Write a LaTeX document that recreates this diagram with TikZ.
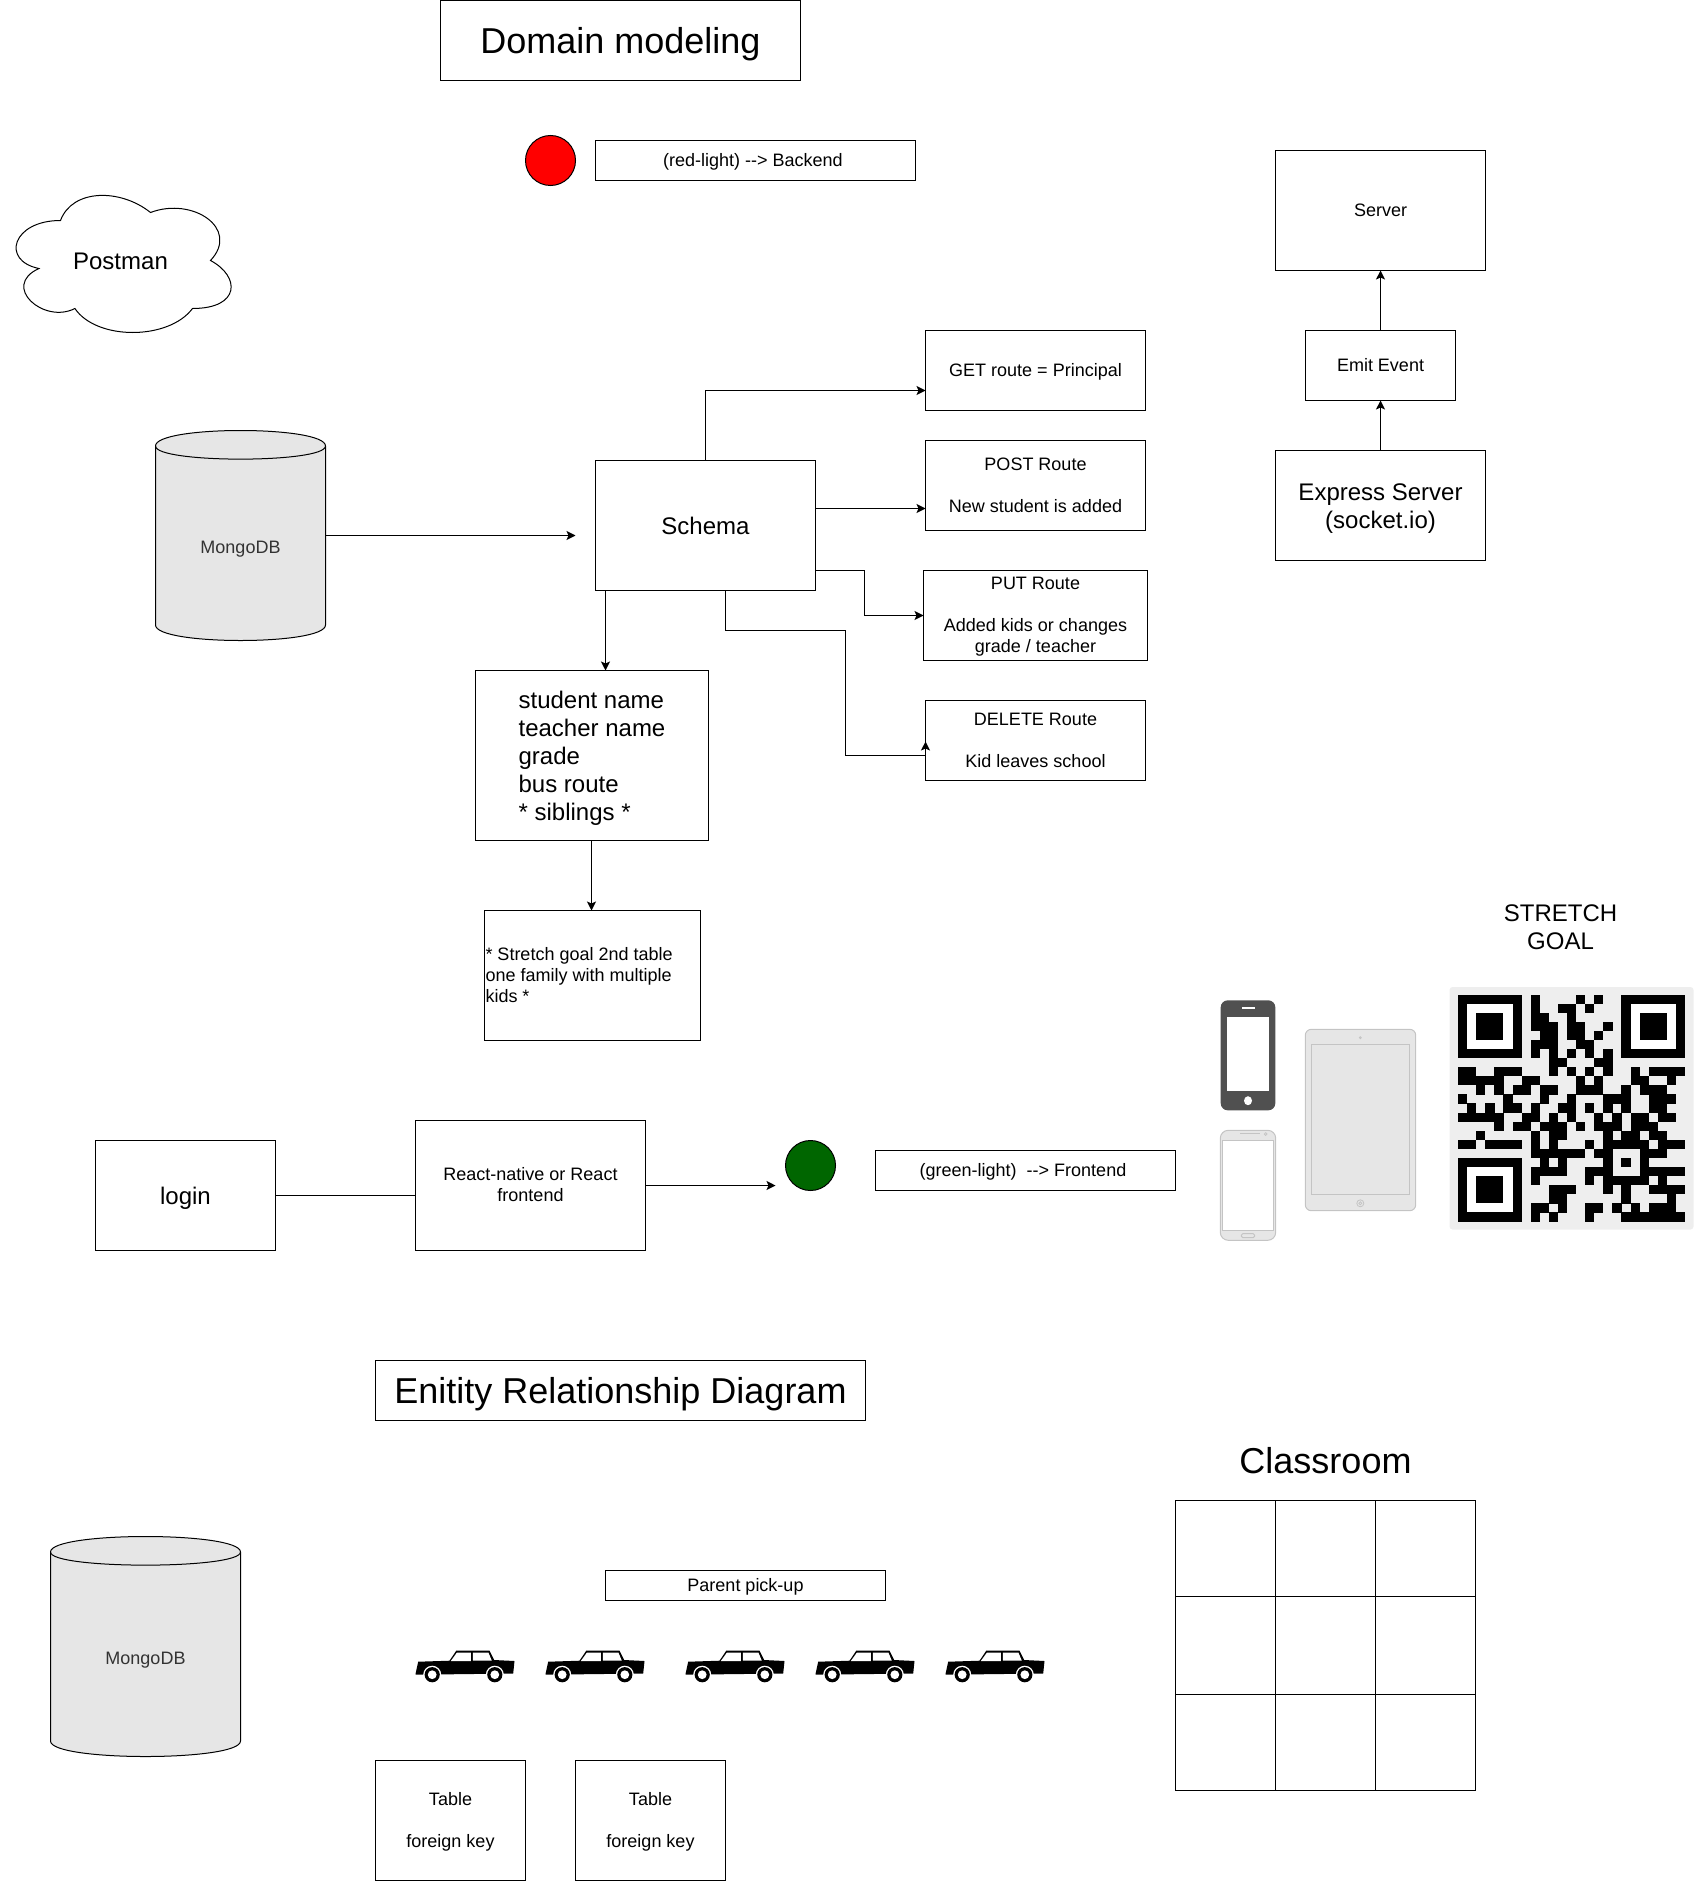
\documentclass[tikz,border=0pt]{standalone}
\usepackage{fontspec}
\setmainfont{Liberation Sans}
\usepackage{tikz}
\usetikzlibrary{arrows.meta, calc, positioning}

\definecolor{dbgray}{HTML}{E6E6E6}
\definecolor{dbtext}{HTML}{333333}
\definecolor{qrpanel}{HTML}{EEEEEE}
\definecolor{phonedark}{HTML}{505050}
\definecolor{devline}{HTML}{C4C4C4}

% Cylinder outline: x, y, width, height
\newcommand{\dbcylinder}[4]{
	\draw[line width=1pt, fill=dbgray] (#1,#2+15.5) .. controls (#1,#2-5.17) and (#1+#3,#2-5.17) .. (#1+#3,#2+15.5)
	-- (#1+#3,#2+#4-15.5) .. controls (#1+#3,#2+#4+5.17) and (#1,#2+#4+5.17) .. (#1,#2+#4-15.5) -- cycle;
	\draw[line width=1pt] (#1,#2+15.5) .. controls (#1,#2+33) and (#1+#3,#2+33) .. (#1+#3,#2+15.5);
}
% Strut for the first line of a text block
\newcommand{\firstline}{\rule{0pt}{\dimexpr.9465em+1pt}}

\tikzset{
	box/.style={draw, line width=1pt, inner sep=0pt, outer sep=0pt, align=center},
	plain/.style={inner sep=0pt, outer sep=0pt, align=center},
	tstrut/.style={execute at begin node={\rule{0pt}{\dimexpr.9465em+1pt}}, execute at end node={\rule[-.2535em]{0pt}{.2535em}}},
	tstrutlow/.style={execute at begin node={\rule{0pt}{\dimexpr.9465em+1pt}}, execute at end node={\rule[\dimexpr-.2535em-2pt]{0pt}{\dimexpr.2535em+2pt}}},
	fsmall/.style={font=\fontsize{18}{21}\selectfont, tstrutlow},
	fmid/.style={font=\fontsize{24}{28}\selectfont, tstrut},
	flarge/.style={font=\fontsize{36}{43}\selectfont, tstrut},
	wire/.style={line width=1pt, -{Stealth[length=9pt, width=9pt, inset=2pt]}},
	pics/car/.style={code={
		\fill[black] (0,24) -- (2.7,11.7) -- (34,10.7) -- (40.7,0.7) -- (74,0.7) -- (78.7,10) -- (99,11) -- (97.7,23.5) -- (0,24.7) -- cycle;
		\fill[white] (35.3,11) -- (41.3,2.7) -- (55.3,2.7) -- (55.3,11) -- cycle;
		\fill[white] (57.3,2.7) -- (73,2.7) -- (76.3,10.7) -- (57.3,10.7) -- cycle;
		\foreach \wx in {16.7,79.3} {
			\fill[white] (\wx,24.7) circle (9);
			\fill[black] (\wx,24.7) circle (7.6);
			\fill[white] (\wx,24.7) circle (4.4);
		}
	}}
}

\begin{document}
\begin{tikzpicture}[x=1pt, y=-1pt, >=Stealth]
	\useasboundingbox (0,0) rectangle (1700,1881);
	\begin{scope}[shift={(0.5,0.5)}]
	
	% --- 1. DOMAIN MODELING ---
	\node[box, flarge, minimum width=360pt, minimum height=80pt] (title) at (620,40) {Domain modeling};
	\node[circle, draw, line width=1pt, fill=red, minimum size=50pt, inner sep=0pt] (redlight) at (550,160) {};
	\node[box, fsmall, minimum width=320pt, minimum height=40pt] (backend) at (755,160) {(red-light) -{}-> Backend\hspace*{5pt}};
	
	% Cloud
	\draw[line width=1pt] (60,220) .. controls (12,220) and (0,260) .. (38.4,268)
	.. controls (0,285.6) and (43.2,324) .. (74.4,308)
	.. controls (96,340) and (168,340) .. (192,308)
	.. controls (240,308) and (240,276) .. (210,260)
	.. controls (240,228) and (192,196) .. (150,212)
	.. controls (120,188) and (72,188) .. (60,220) -- cycle;
	\node[plain, fmid] (postman) at (120,260) {Postman};
	
	% Database
	\dbcylinder{155}{430}{170}{210}
	\node[plain, minimum width=170pt, minimum height=210pt] (mongoA) at (240,535) {};
	\node[plain, fsmall, text=dbtext] (mongoAtext) at ([yshift=-12pt]mongoA.center) {MongoDB};
	\coordinate (schemagap) at (575,535);
	
	% Schema and routes
	\node[box, fmid, minimum width=220pt, minimum height=130pt] (schema) at (705,525) {Schema};
	\node[box, fsmall, minimum width=220pt, minimum height=80pt] (get) at (1035,370) {GET route = Principal};
	\node[box, fsmall, minimum width=220pt, minimum height=90pt] (post) at (1035,485) {\firstline POST Route\\[21pt]New student is added};
	\node[box, fsmall, minimum width=224pt, minimum height=90pt] (put) at (1035,615) {\firstline PUT Route\\[21pt]Added kids or changes\\grade / teacher};
	\node[box, fsmall, minimum width=220pt, minimum height=80pt] (delete) at (1035,740) {\firstline DELETE Route\\[21pt]Kid leaves school};
	\node[box, minimum width=233pt, minimum height=170pt] (attrs) at (591.5,755) {};
	\node[plain, fmid, align=left] (attrstext) at (attrs.center) {\firstline student name\\teacher name\\grade\\bus route\\* siblings *};
	\node[box, minimum width=216pt, minimum height=130pt] (stretch) at (592,975) {};
	\node[plain, fsmall, align=left, anchor=west] (stretchtext) at ([xshift=1pt]stretch.west) {\firstline * Stretch goal 2nd table\\one family with multiple\\kids *};
	
	% Server column
	\node[box, fsmall, minimum width=210pt, minimum height=120pt] (server) at (1380,210) {Server};
	\node[box, fsmall, minimum width=150pt, minimum height=70pt] (emit) at (1380,365) {Emit Event};
	\node[box, fmid, minimum width=210pt, minimum height=110pt] (express) at (1380,505) {\firstline Express Server\\(socket.io)};
	
	% Connectors
	\draw[wire] (mongoA.east) -- (schemagap);
	\draw[wire] (schema.north) |- ([yshift=-20pt]get.west);
	\draw[wire] ([yshift=17pt]schema.east) -- ([yshift=-23pt]post.west);
	\draw[wire] ([yshift=-45pt]schema.east) -- ++(49,0) |- (put.west);
	\draw[wire] ([xshift=20pt]schema.south) |- ++(120,40) |- ([yshift=-15pt]delete.west) -- ([yshift=-1pt]delete.west);
	\draw[wire] ([xshift=-100pt]schema.south) -- ([xshift=13.5pt]attrs.north);
	\draw[wire] ([xshift=-.5pt]attrs.south) -- ([xshift=-1pt]stretch.north);
	\draw[wire] (express.north) -- (emit.south);
	\draw[wire] (emit.north) -- (server.south);
	
	% --- 2. FRONTEND ROW ---
	\node[box, fmid, minimum width=180pt, minimum height=110pt] (login) at (185,1195) {login};
	\node[box, fsmall, minimum width=230pt, minimum height=130pt] (react) at (530,1185) {\firstline React-native or React\\frontend};
	\node[circle, draw, line width=1pt, fill={rgb,255:red,0;green,102;blue,0}, minimum size=50pt, inner sep=0pt] (greenlight) at (810,1165) {};
	\node[box, fsmall, minimum width=300pt, minimum height=40pt] (frontend) at (1025,1170) {(green-light)~ -{}-> Frontend\hspace*{5pt}};
	\coordinate (greengap) at (775,1185);
	\draw[line width=1pt] (login.east) -- ([yshift=-10pt]react.west);
	\draw[wire] (react.east) -- (greengap);
	
	% Devices
	\begin{scope}[shift={(-0.5,-0.5)}]
		\fill[phonedark, rounded corners=7pt] (1220.7,1000.3) rectangle (1275.3,1110.3);
		\fill[white] (1227.3,1017) rectangle (1268.7,1090.7);
		\fill[white] (1241.7,1007) rectangle (1255,1008.7);
		\fill[white] (1248,1100.7) ellipse (4 and 4.5);
		
		\draw[devline, line width=1pt, fill=dbgray, rounded corners=8pt] (1220.3,1130.3) rectangle (1275.7,1240.3);
		\draw[devline, line width=1pt, fill=white] (1222.7,1140.7) rectangle (1273.3,1230);
		\draw[devline, line width=1pt] (1240,1133) -- (1260,1133);
		\draw[devline, line width=.8pt] (1265.7,1134) circle (1.4);
		\draw[devline, line width=1pt, rounded corners=1.5pt] (1241.3,1233.7) rectangle (1254.7,1237.7);
		
		\draw[devline, line width=1pt, fill=dbgray, rounded corners=6pt] (1305.3,1029.3) rectangle (1415.7,1210.7);
		\draw[devline, line width=1.2pt] (1311.7,1044.7) rectangle (1409.7,1194.3);
		\draw[devline, line width=.8pt] (1360.3,1037.7) circle (1);
		\draw[devline, line width=.8pt] (1360.3,1203.3) circle (3.5) circle (1.5);
	\end{scope}
	
	\node[plain, fmid] (goal) at (1560,926) {\firstline STRETCH\\GOAL};
	
	% QR code
	\fill[qrpanel, rounded corners=3pt] (1449,986.5) rectangle (1693,1229);
	\begin{scope}[shift={(1457.5,994)}, x=9.08pt, y=-9.08pt]
		\foreach \fx/\fy in {0/0, 18/0, 0/18} {
			\fill[black] (\fx,\fy) rectangle ++(7,7);
			\fill[white] (\fx+1,\fy+1) rectangle ++(5,5);
			\fill[black] (\fx+2,\fy+2) rectangle ++(3,3);
		}
		\foreach \r/\cells in {
			0/{8,13,15},
			1/{8,11,12,14},
			2/{8,9,12},
			3/{8,9,10,12,13,16},
			4/{9,10,12,13,15},
			5/{8,9,10,13,14},
			6/{8,10,12,14,16},
			7/{10,11,15,16},
			8/{0,1,4,5,6,10,12,14,16,19,21,22,23,24},
			9/{0,1,2,3,4,7,8,13,15,19,20,23},
			10/{2,4,6,7,9,10,13,14,15,18,20,21,22},
			11/{0,5,9,12,16,17,18,21,22,23},
			12/{1,3,5,6,8,11,12,14,16,18,21,22},
			13/{0,1,2,3,4,7,8,10,12,15,17,19,20,22,23},
			14/{4,6,7,9,10,11,13,15,16,17,19,20,21},
			15/{2,8,10,11,16,18,19,21,22},
			16/{0,1,3,4,5,6,8,10,14,16,17,18,19,20,22,23,24},
			17/{8,9,10,11,12,13,15,16,20,21,22},
			18/{9,11,16,18,20},
			19/{8,9,10,11,14,15,16,20,21,22,23,24},
			20/{8,14,16,17,18,19,20,22},
			21/{10,11,12,16,18,21,22,23,24},
			22/{10,11,18,23},
			23/{8,9,11,14,15,17,19,21,22,23},
			24/{8,10,14,18,19,20,21,22,23,24}} {
			\foreach \c in \cells {
				\fill[black] (\c,\r) rectangle ++(1.02,1.02);
			}
		}
	\end{scope}
	
	% --- 3. ENTITY RELATIONSHIP ---
	\node[box, flarge, minimum width=490pt, minimum height=60pt] (erd) at (620,1390) {Enitity Relationship Diagram};
	
	\dbcylinder{50}{1536}{190}{220}
	\node[plain, minimum width=190pt, minimum height=220pt] (mongoB) at (145,1646) {};
	\node[plain, fsmall, text=dbtext] (mongoBtext) at ([yshift=-12pt]mongoB.center) {MongoDB};
	
	\node[box, fsmall, minimum width=280pt, minimum height=30pt] (pickup) at (745,1585) {Parent pick-up};
	
	% Cars
	\foreach \cx in {415,545,685,815,945} {
		\pic at (\cx,1649.5) {car};
	}
	
	\node[box, fsmall, minimum width=150pt, minimum height=120pt] (tableA) at (450,1820) {\firstline Table\\[21pt]foreign key};
	\node[box, fsmall, minimum width=150pt, minimum height=120pt] (tableB) at (650,1820) {\firstline Table\\[21pt]foreign key};
	
	% Classroom
	\node[plain, flarge] (classroom) at (1325,1460) {Classroom};
	\draw[line width=1pt] (1175,1500) rectangle (1475,1790);
	\foreach \gx in {1275,1375} {
		\draw[line width=1pt] (\gx,1500) -- (\gx,1790);
	}
	\foreach \gy in {1596,1694} {
		\draw[line width=1pt] (1175,\gy) -- (1475,\gy);
	}
	\end{scope}
\end{tikzpicture}
\end{document}
